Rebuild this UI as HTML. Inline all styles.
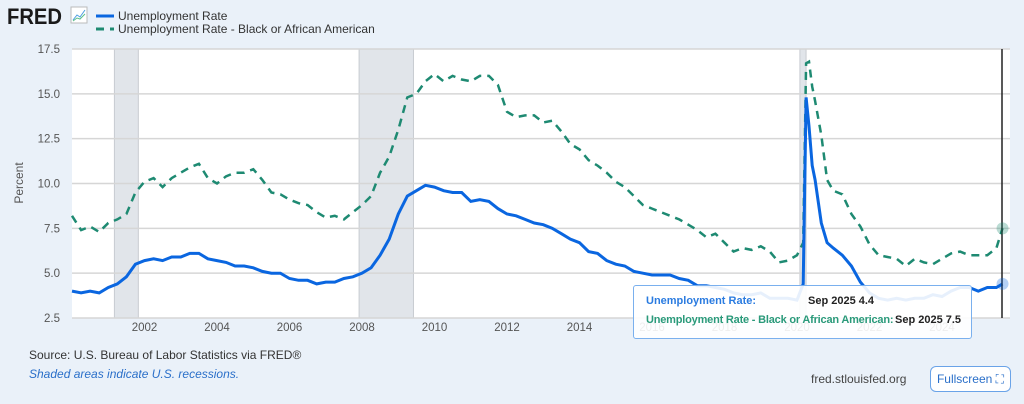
<!DOCTYPE html>
<html><head><meta charset="utf-8"><style>
body{margin:0;width:1024px;height:404px;background:#eaf1f9;font-family:"Liberation Sans",sans-serif;overflow:hidden;position:relative}
.t{position:absolute;white-space:nowrap}
</style></head><body>
<svg width="1024" height="404" style="position:absolute;left:0;top:0">
<text x="7" y="24" font-size="22" font-weight="bold" fill="#1a1a1a" textLength="55" lengthAdjust="spacingAndGlyphs" font-family="Liberation Sans">FRED</text>
<rect x="71" y="7" width="16" height="16" fill="#fff" stroke="#bbb"/>
<polyline points="73,20 77,15 80,17 85,10" fill="none" stroke="#4a9de0" stroke-width="1"/>
<polyline points="73,21 77,18 80,19 85,14" fill="none" stroke="#5cc08a" stroke-width="1"/>
<line x1="96" y1="16" x2="114" y2="16" stroke="#0a66e0" stroke-width="3"/>
<text x="118" y="20" font-size="12" fill="#333">Unemployment Rate</text>
<line x1="96" y1="29" x2="114" y2="29" stroke="#1e8a72" stroke-width="3" stroke-dasharray="8,6"/>
<text x="118" y="33" font-size="12" fill="#333">Unemployment Rate - Black or African American</text>
<rect x="72" y="49" width="938" height="269" fill="#fff"/>
<g id="rec"></g><g id="grid"></g><g id="xt"></g><g id="yt"></g>
<text transform="translate(23,183) rotate(-90)" text-anchor="middle" font-size="12" fill="#555">Percent</text>
<path id="s2" fill="none" stroke="#1e8a72" stroke-width="2.5" stroke-dasharray="8,6"/>
<path id="s1" fill="none" stroke="#0a66e0" stroke-width="3"/>
<line x1="1002" y1="49" x2="1002" y2="318" stroke="#222" stroke-width="1.5"/>
<circle id="d1" r="6" fill="#0a66e0" fill-opacity="0.3"/>
<circle id="d2" r="6" fill="#1e8a72" fill-opacity="0.3"/>
</svg>
<div class="t" style="left:633px;top:285px;width:337px;height:52px;border:1px solid #7ab0ee;border-radius:3px;background:rgba(255,255,255,0.9);font-size:11px;font-weight:bold">
<div class="t" style="left:12px;top:9px;color:#2a7be0">Unemployment Rate:</div>
<div class="t" style="left:174px;top:9px;color:#222">Sep 2025 4.4</div>
<div class="t" style="left:12px;top:28px;color:#2a9a7a;letter-spacing:-0.2px">Unemployment Rate - Black or African American:</div>
<div class="t" style="left:261px;top:28px;color:#222">Sep 2025 7.5</div>
</div>
<div class="t" style="left:29px;top:348px;font-size:12px;color:#333">Source: U.S. Bureau of Labor Statistics via FRED®</div>
<div class="t" style="left:29px;top:367px;font-size:12px;color:#2a6fc9;font-style:italic">Shaded areas indicate U.S. recessions.</div>
<div class="t" style="left:811px;top:372px;font-size:12px;color:#444">fred.stlouisfed.org</div>
<div class="t" style="left:930px;top:366px;width:79px;height:24px;border:1px solid #6aa3e8;border-radius:6px;background:#fff;color:#2a6fc9;font-size:12px;line-height:24px;text-align:center">Fullscreen ⛶</div>
<script>
const years=[2000,2001,2002,2003,2004,2005,2006,2007,2008,2009,2010,2011,2012,2013,2014,2015,2016,2017,2018,2019];
const unrateQ=[4.0,3.9,4.0,3.9,4.2,4.4,4.8,5.5,5.7,5.8,5.7,5.9,5.9,6.1,6.1,5.8,5.7,5.6,5.4,5.4,5.3,5.1,5.0,5.0,4.7,4.6,4.6,4.4,4.5,4.5,4.7,4.8,5.0,5.3,6.0,6.9,8.3,9.3,9.6,9.9,9.8,9.6,9.5,9.5,9.0,9.1,9.0,8.6,8.3,8.2,8.0,7.8,7.7,7.5,7.2,6.9,6.7,6.2,6.1,5.7,5.5,5.4,5.1,5.0,4.9,4.9,4.9,4.7,4.6,4.3,4.3,4.2,4.1,3.9,3.8,3.8,3.9,3.6,3.6,3.6];
const blackQ=[8.2,7.4,7.6,7.3,7.8,8.0,8.3,9.5,10.1,10.3,9.8,10.3,10.6,10.9,11.1,10.3,10.0,10.4,10.6,10.6,10.8,10.2,9.5,9.4,9.1,8.9,8.8,8.4,8.1,8.2,8.0,8.4,8.8,9.3,10.6,11.5,13.0,14.8,15.0,15.7,16.1,15.7,16.0,15.8,15.7,16.0,16.0,15.5,14.0,13.7,13.8,13.8,13.4,13.5,12.9,12.2,11.9,11.3,11.0,10.6,10.1,9.8,9.3,8.8,8.6,8.4,8.2,8.0,7.7,7.4,7.0,7.2,6.7,6.2,6.4,6.3,6.5,6.2,5.6,5.7];
const lateDates=[2020.0,2020.17,2020.25,2020.33,2020.42,2020.5,2020.67,2020.83,2021.0,2021.25,2021.5,2021.75,2022.0,2022.25,2022.5,2022.75,2023.0,2023.25,2023.5,2023.75,2024.0,2024.25,2024.5,2024.75,2025.0,2025.25,2025.5,2025.67];
const unrateLate=[3.5,4.4,14.8,13.2,11.0,10.2,7.8,6.7,6.4,6.0,5.4,4.5,3.9,3.6,3.5,3.6,3.5,3.6,3.6,3.8,3.7,4.0,4.2,4.2,4.0,4.2,4.2,4.4];
const blackLate=[6.0,6.7,16.7,16.8,15.4,14.6,12.7,10.2,9.6,9.4,8.3,7.6,6.6,6.0,5.9,5.8,5.4,5.8,5.6,5.5,5.8,6.1,6.2,6.0,6.0,6.0,6.4,7.5];
const recessions=[[2001.17,2001.83],[2007.92,2009.42],[2020.08,2020.25]];
const yTicks=[2.5,5.0,7.5,10.0,12.5,15.0,17.5];
const xTicks=[2002,2004,2006,2008,2010,2012,2014,2016,2018,2020,2022,2024];
const X=t=>72+(t-2000)*36.25, Y=v=>318-(v-2.5)*(269/15);
const NS="http://www.w3.org/2000/svg";
function mk(tag,attrs,parent,txt){const e=document.createElementNS(NS,tag);for(const k in attrs)e.setAttribute(k,attrs[k]);if(txt)e.textContent=txt;document.getElementById(parent).appendChild(e);return e;}
recessions.forEach(r=>{
 const e=mk('rect',{x:X(r[0]),y:49,width:X(r[1])-X(r[0]),height:269,fill:'#e1e5ea',stroke:'#c8ccd1'},'rec');
 
 
});
yTicks.forEach(v=>{
 const l=mk('line',{x1:72,x2:1010,y1:Y(v),y2:Y(v),stroke:'#d6d6d6','stroke-width':1.5},'grid');
 
 
 const t=mk('text',{x:60,y:Y(v)+4,'text-anchor':'end','font-size':11.5,fill:'#555'},'yt',v.toFixed(1));
 
 
});
xTicks.forEach(v=>{
 const t=mk('text',{x:X(v),y:331,'text-anchor':'middle','font-size':11.5,fill:'#555'},'xt',String(v));
 
 
});
function pts(q,ld,lv){const p=[];q.forEach((v,i)=>p.push([2000+i/4,v]));ld.forEach((d,i)=>p.push([d,lv[i]]));return p;}
function path(p){return p.map((a,i)=>(i?'L':'M')+X(a[0]).toFixed(1)+','+Y(a[1]).toFixed(1)).join('');}
const p1=pts(unrateQ,lateDates,unrateLate),p2=pts(blackQ,lateDates,blackLate);
document.getElementById('s1').setAttribute('d',path(p1));
document.getElementById('s2').setAttribute('d',path(p2));
const l1=p1[p1.length-1],l2=p2[p2.length-1];
document.getElementById('d1').setAttribute('cx',X(l1[0]));document.getElementById('d1').setAttribute('cy',Y(l1[1]));
document.getElementById('d2').setAttribute('cx',X(l2[0]));document.getElementById('d2').setAttribute('cy',Y(l2[1]));
</script>
</body></html>
